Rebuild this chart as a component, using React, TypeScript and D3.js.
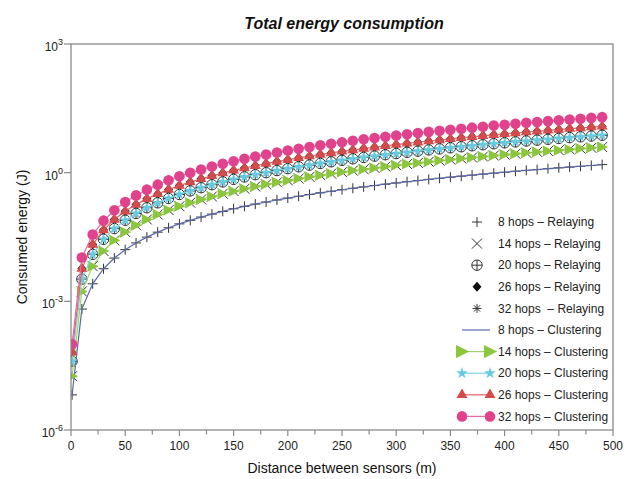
import React from 'react';
import * as d3 from 'd3';

// distance between sensors (m)
const distances = [1, 10, 20, 30, 40, 50, 60, 70, 80, 90, 100, 110, 120, 130, 140, 150, 160, 170, 180, 190,
  200, 210, 220, 230, 240, 250, 260, 270, 280, 290, 300, 310, 320, 330, 340, 350, 360, 370, 380, 390,
  400, 410, 420, 430, 440, 450, 460, 470, 480, 490];

// consumed energy (J) (relaying and clustering overlap)
const energy8 = [0.0000066, 0.00066, 0.00256, 0.00576, 0.0102, 0.016, 0.023, 0.0314, 0.041, 0.0518,
  0.064, 0.0774, 0.0922, 0.108, 0.125, 0.144, 0.164, 0.185, 0.207, 0.231,
  0.256, 0.282, 0.31, 0.339, 0.369, 0.4, 0.433, 0.467, 0.502, 0.538,
  0.576, 0.615, 0.655, 0.697, 0.74, 0.784, 0.829, 0.876, 0.924, 0.973,
  1.024, 1.08, 1.13, 1.18, 1.24, 1.3, 1.35, 1.41, 1.47, 1.54];
const energy14 = [0.000018, 0.0017, 0.0066, 0.0149, 0.0264, 0.0413, 0.0594, 0.0809, 0.106, 0.134,
  0.165, 0.2, 0.238, 0.279, 0.323, 0.371, 0.422, 0.477, 0.535, 0.596,
  0.66, 0.728, 0.799, 0.873, 0.95, 1.03, 1.12, 1.2, 1.29, 1.39,
  1.49, 1.59, 1.69, 1.8, 1.91, 2.02, 2.14, 2.26, 2.38, 2.51,
  2.64, 2.77, 2.91, 3.05, 3.19, 3.34, 3.49, 3.64, 3.8, 3.96];
const energy20 = [0.00004, 0.0033, 0.0124, 0.0279, 0.0496, 0.0775, 0.112, 0.152, 0.198, 0.251,
  0.31, 0.375, 0.446, 0.524, 0.608, 0.698, 0.794, 0.896, 1.0, 1.12,
  1.24, 1.37, 1.5, 1.64, 1.79, 1.94, 2.1, 2.26, 2.43, 2.61,
  2.79, 2.98, 3.17, 3.38, 3.58, 3.8, 4.02, 4.24, 4.48, 4.72,
  4.96, 5.21, 5.47, 5.73, 6.0, 6.28, 6.56, 6.85, 7.14, 7.44];
const energy26 = [0.000065, 0.0058, 0.021, 0.046, 0.081, 0.126, 0.18, 0.245, 0.32, 0.405,
  0.5, 0.605, 0.72, 0.845, 0.98, 1.13, 1.28, 1.45, 1.62, 1.81,
  2.0, 2.21, 2.42, 2.65, 2.88, 3.13, 3.38, 3.65, 3.92, 4.21,
  4.5, 4.81, 5.12, 5.45, 5.78, 6.13, 6.48, 6.85, 7.22, 7.61,
  8.0, 8.41, 8.82, 9.25, 9.68, 10.1, 10.6, 11.0, 11.5, 12.0];
const energy32 = [0.0001, 0.0105, 0.036, 0.076, 0.133, 0.206, 0.295, 0.402, 0.525, 0.664,
  0.82, 0.992, 1.18, 1.39, 1.61, 1.85, 2.1, 2.37, 2.66, 2.96,
  3.28, 3.62, 3.97, 4.34, 4.72, 5.13, 5.54, 5.98, 6.43, 6.9,
  7.38, 7.88, 8.4, 8.93, 9.48, 10.0, 10.6, 11.2, 11.8, 12.5,
  13.1, 13.8, 14.5, 15.2, 15.9, 16.6, 17.4, 18.1, 18.9, 19.7];

const relayingLabels = ['8 hops \u2013 Relaying', '14 hops \u2013 Relaying', '20 hops \u2013 Relaying',
  '26 hops \u2013 Relaying', '32 hops  \u2013 Relaying'];
const clusteringLabels = ['8 hops \u2013 Clustering', '14 hops \u2013 Clustering', '20 hops \u2013 Clustering',
  '26 hops \u2013 Clustering', '32 hops \u2013 Clustering'];

const xTicks = [0, 50, 100, 150, 200, 250, 300, 350, 400, 450, 500];
const xMinorTicks = d3.range(0, 501, 25);
const yTickExponents = [3, 0, -3, -6];

const seriesValues = [energy8, energy14, energy20, energy26, energy32];
const clusterColors = ['#5a69a8', '#8cc63e', '#66cbe0', '#d54a4a', '#e0438b'];
const clusterLineColors = ['#5a69a8', '#9fd46a', '#7fd4e6', '#dc6464', '#e66aa2'];

const width = 629;
const height = 479;
const margin = { left: 71, right: 16, top: 44, bottom: 49 };
const font = '"Liberation Sans", Arial, Helvetica, sans-serif';

const starPath = d3.symbol(d3.symbolStar, 42)() as string;
const trianglePath = d3.symbol(d3.symbolTriangle, 52)() as string;

function RelayMarker({ kind }: { kind: number }) {
  const c = '#333';
  if (kind === 0) return <path d="M-5,0H5M0,-5V5" stroke={c} strokeWidth={1} fill="none" />;
  if (kind === 1) return <path d="M-5,-5L5,5M-5,5L5,-5" stroke={c} strokeWidth={1} fill="none" />;
  if (kind === 2) return (
    <g stroke={c} strokeWidth={1} fill="none">
      <circle r={5.2} />
      <path d="M-5.2,0H5.2M0,-5.2V5.2" />
    </g>
  );
  if (kind === 3) return <path d="M0,-5L4.5,0L0,5L-4.5,0Z" fill="#111" />;
  return <path d="M-4.5,0H4.5M0,-4.5V4.5M-3.2,-3.2L3.2,3.2M-3.2,3.2L3.2,-3.2" stroke={c} strokeWidth={1} fill="none" />;
}

function ClusterMarker({ kind, big }: { kind: number; big?: boolean }) {
  const col = clusterColors[kind];
  if (kind === 0) return null;
  if (kind === 1) {
    const s = big ? 1.2 : 1;
    return <path d={`M${-5 * s},${-5.5 * s}L${6 * s},0L${-5 * s},${5.5 * s}Z`} fill={col} />;
  }
  if (kind === 2) return <path d={starPath} fill={col} />;
  if (kind === 3) return <path d={trianglePath} fill={col} />;
  return <circle r={5.3} fill={col} />;
}

export default function App() {
  const x = d3.scaleLinear().domain([0, 500]).range([margin.left, width - margin.right]);
  const y = d3.scaleLog().domain([1e-6, 1e3]).range([height - margin.bottom, margin.top]);
  const line = d3.line<number>().x((_, i) => x(distances[i])).y((v) => y(v));

  const x0 = x.range()[0], x1 = x.range()[1];
  const yb = y.range()[0], yt = y.range()[1];
  const frame = '#8a8a8a';

  const legendX = 477;
  const legendY0 = 222;
  const legendStep = 21.6;
  const legendTextX = 498;

  return (
    <svg width={width} height={height} style={{ position: 'absolute', left: 0, top: 0, background: '#fff' }}
      fontFamily={font}>
      <defs>
        <clipPath id="plotClip">
          <rect x={x0} y={yt} width={x1 - x0} height={yb - yt} />
        </clipPath>
      </defs>
      <text x={344} y={28.5} textAnchor="middle" fontSize={16} fontWeight="bold" fontStyle="italic" fill="#111">
        Total energy consumption
      </text>

      <g clipPath="url(#plotClip)">
        {seriesValues.map((vals, k) => (
          <g key={'r' + k}>
            {vals.map((v, i) => (
              <g key={i} transform={`translate(${x(distances[i])},${y(v)})`}>
                <RelayMarker kind={k} />
              </g>
            ))}
          </g>
        ))}
        {seriesValues.map((vals, k) => (
          <g key={'c' + k}>
            <path d={line(vals) as string} fill="none" stroke={clusterLineColors[k]} strokeWidth={1.2} />
            {vals.map((v, i) => (
              <g key={i} transform={`translate(${x(distances[i])},${y(v)})`}>
                <ClusterMarker kind={k} />
              </g>
            ))}
          </g>
        ))}
      </g>

      {/* frame */}
      <rect x={x0} y={yt} width={x1 - x0} height={yb - yt} fill="none" stroke={frame} strokeWidth={1.3} />

      {/* x axis ticks */}
      {xMinorTicks.map((t) => (
        <line key={'m' + t} x1={x(t)} x2={x(t)} y1={yb} y2={yb + (t % 50 === 0 ? 6 : 4.5)} stroke={frame} strokeWidth={1.2} />
      ))}
      {xTicks.map((t) => (
        <text key={t} x={x(t)} y={yb + 20} textAnchor="middle" fontSize={12} fill="#222">{t}</text>
      ))}
      <text x={342} y={473} textAnchor="middle" fontSize={14} fill="#111">Distance between sensors (m)</text>

      {/* y axis ticks */}
      {yTickExponents.map((e) => (
        <g key={e}>
          <line x1={x0 - 7} x2={x0} y1={y(Math.pow(10, e))} y2={y(Math.pow(10, e))} stroke={frame} strokeWidth={1.2} />
          <text x={63} y={y(Math.pow(10, e)) + 7} textAnchor="end" fontSize={12} fill="#222">
            10<tspan fontSize={9} dy={-6}>{e}</tspan>
          </text>
        </g>
      ))}
      <text transform={`translate(27,237) rotate(-90)`} textAnchor="middle" fontSize={14} fill="#111">
        Consumed energy (J)
      </text>

      {/* legend */}
      {relayingLabels.map((lab, k) => {
        const ly = legendY0 + k * legendStep;
        return (
          <g key={lab}>
            <g transform={`translate(${legendX},${ly})`}><RelayMarker kind={k} /></g>
            <text x={legendTextX} y={ly + 4.2} fontSize={12} fill="#222" style={{ whiteSpace: 'pre' }}>{lab}</text>
          </g>
        );
      })}
      {clusteringLabels.map((lab, k) => {
        const ly = legendY0 + (k + 5) * legendStep;
        return (
          <g key={lab}>
            <line x1={462} x2={490} y1={ly} y2={ly} stroke={clusterLineColors[k]} strokeWidth={1.2} />
            <g transform={`translate(462,${ly})`}><ClusterMarker kind={k} big /></g>
            <g transform={`translate(490,${ly})`}><ClusterMarker kind={k} big /></g>
            <text x={legendTextX} y={ly + 4.2} fontSize={12} fill="#222">{lab}</text>
          </g>
        );
      })}
    </svg>
  );
}
